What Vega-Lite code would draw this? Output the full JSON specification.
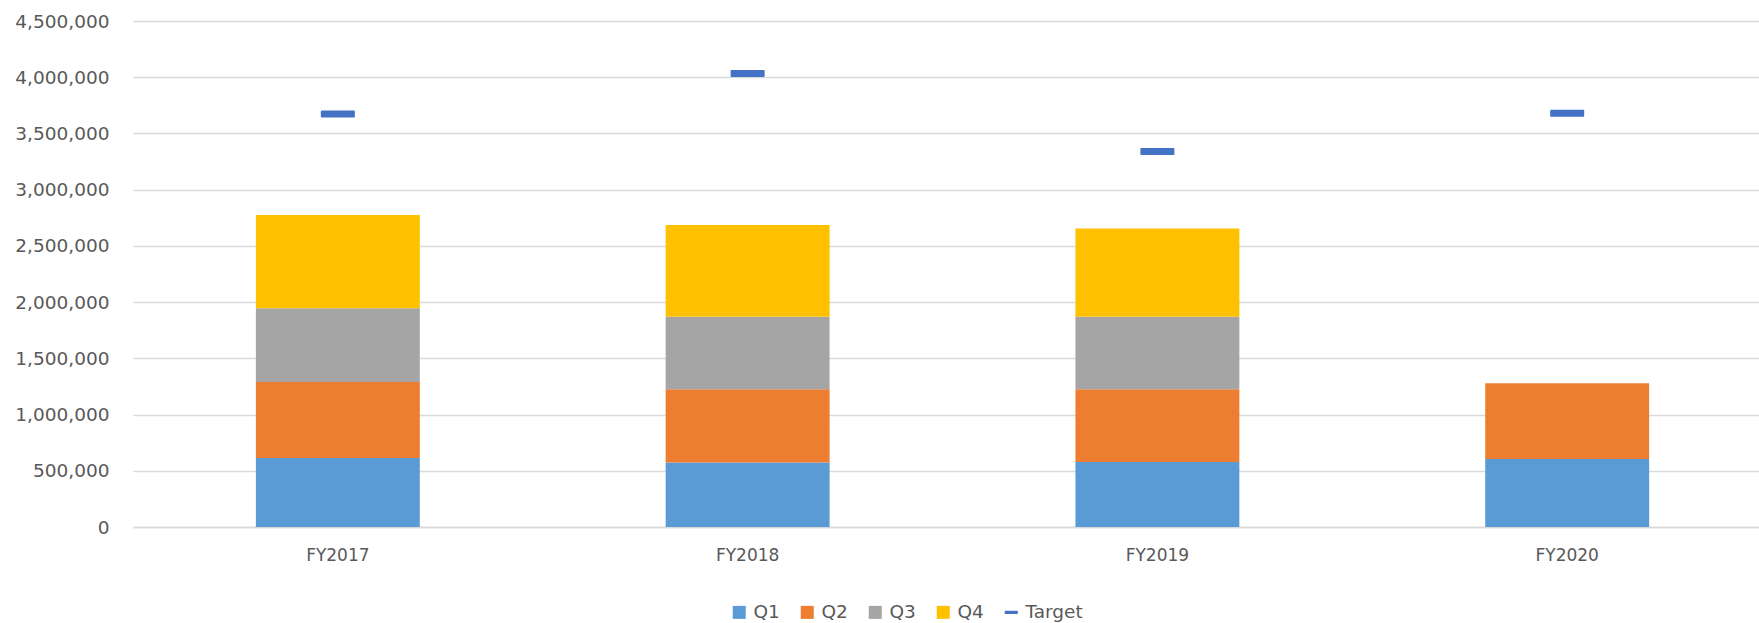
{
  "$schema": "https://vega.github.io/schema/vega-lite/v6.json",
  "autosize": {"type": "none"},
  "width": 1626,
  "height": 506,
  "padding": {"left": 133, "top": 21, "right": 0, "bottom": 96},
  "background": "white",
  "config": {
    "view": {"stroke": null},
    "font": "DejaVu Sans"
  },
  "data": {
    "values": [
      {"year": "FY2017", "series": "Q1", "value": 613000},
      {"year": "FY2017", "series": "Q2", "value": 677000},
      {"year": "FY2017", "series": "Q3", "value": 655000},
      {"year": "FY2017", "series": "Q4", "value": 829000},
      {"year": "FY2017", "series": "Target", "value": 3673000},
      {"year": "FY2018", "series": "Q1", "value": 574000},
      {"year": "FY2018", "series": "Q2", "value": 652000},
      {"year": "FY2018", "series": "Q3", "value": 644000},
      {"year": "FY2018", "series": "Q4", "value": 815000},
      {"year": "FY2018", "series": "Target", "value": 4032000},
      {"year": "FY2019", "series": "Q1", "value": 577000},
      {"year": "FY2019", "series": "Q2", "value": 649000},
      {"year": "FY2019", "series": "Q3", "value": 644000},
      {"year": "FY2019", "series": "Q4", "value": 785000},
      {"year": "FY2019", "series": "Target", "value": 3339000},
      {"year": "FY2020", "series": "Q1", "value": 604000},
      {"year": "FY2020", "series": "Q2", "value": 675000},
      {"year": "FY2020", "series": "Target", "value": 3679000}
    ]
  },
  "encoding": {
    "x": {
      "field": "year",
      "type": "nominal",
      "sort": null,
      "scale": {"paddingInner": 0.6, "paddingOuter": 0.284, "align": 0.528},
      "axis": {
        "title": null,
        "labelAngle": 0,
        "labelFontSize": 17,
        "labelColor": "#595959",
        "labelPadding": 20,
        "ticks": false,
        "domain": true,
        "domainColor": "#d9d9d9",
        "domainWidth": 1.5
      }
    },
    "y": {
      "field": "value",
      "type": "quantitative",
      "stack": "zero",
      "scale": {"domain": [0, 4500000], "nice": false},
      "axis": {
        "title": null,
        "values": [0, 500000, 1000000, 1500000, 2000000, 2500000, 3000000, 3500000, 4000000, 4500000],
        "format": ",d",
        "labelFontSize": 18.5,
        "labelColor": "#595959",
        "labelPadding": 24,
        "ticks": false,
        "domain": false,
        "grid": true,
        "gridColor": "#d9d9d9",
        "gridWidth": 1.5
      }
    },
    "color": {
      "field": "series",
      "type": "nominal",
      "scale": {
        "domain": ["Q1", "Q2", "Q3", "Q4", "Target"],
        "range": ["#5b9bd5", "#ed7d31", "#a5a5a5", "#ffc000", "#4472c4"]
      },
      "legend": {
        "title": null,
        "orient": "none",
        "direction": "horizontal",
        "legendX": 597,
        "legendY": 582,
        "symbolType": "square",
        "symbolSize": 169,
        "symbolStrokeWidth": 0,
        "symbolOpacity": 1,
        "labelFontSize": 18.5,
        "labelColor": "#595959",
        "labelOffset": 5,
        "columnPadding": 18,
        "encode": {
          "symbols": {
            "update": {
              "shape": {"signal": "datum.value === 'Target' ? 'M-1,-0.25H1V0.25H-1Z' : 'square'"}
            }
          }
        }
      }
    }
  },
  "layer": [
    {
      "transform": [{"filter": "datum.series !== 'Target'"}],
      "mark": {"type": "bar"},
      "encoding": {
        "order": {"field": "series", "sort": "ascending"}
      }
    },
    {
      "transform": [{"filter": "datum.series === 'Target'"}],
      "mark": {"type": "tick", "size": 34, "thickness": 7, "opacity": 1, "cornerRadius": 1},
      "encoding": {
        "y": {"field": "value", "type": "quantitative", "stack": null}
      }
    }
  ]
}
